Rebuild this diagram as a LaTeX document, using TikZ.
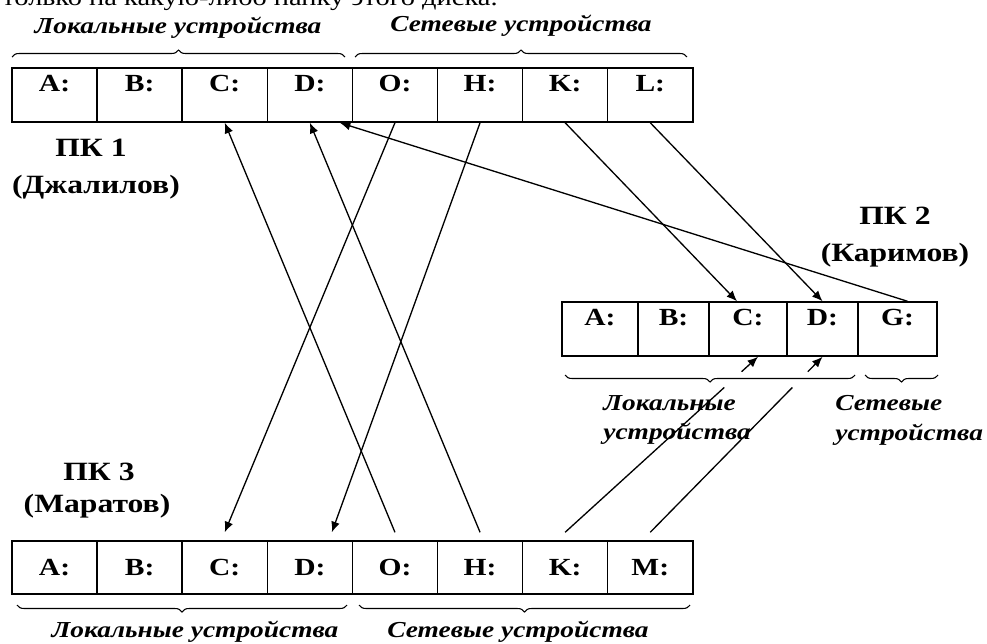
\documentclass[tikz,border=0pt]{standalone}
\usepackage{fontspec}
\setmainfont{Liberation Serif}[FakeStretch=1.2]
\usetikzlibrary{arrows.meta}
\usetikzlibrary{calc}
\usetikzlibrary{decorations.pathreplacing}

\tikzset{
  cell/.style={draw, line width=0.85pt, inner sep=0pt, font=\bfseries\fontsize{14}{16}\selectfont},
  topcell/.style={cell, text height=0.46cm, text depth=0.62cm},
  midcell/.style={cell, minimum height=1.06cm},
  pclabel/.style={font=\bfseries\fontsize{15}{17}\selectfont, inner sep=0pt},
  devlabel/.style={font=\bfseries\itshape\fontsize{13}{17}\selectfont, inner sep=0pt},
  brc/.style={decorate, line width=0.6pt, decoration={brace, amplitude=0.14cm}},
  brcd/.style={decorate, line width=0.6pt, decoration={brace, mirror, amplitude=0.14cm}},
  ln/.style={line width=0.75pt}
}

\begin{document}
\begin{tikzpicture}[x=0.02cm, y=-0.02cm, >={Latex[length=6pt,width=5pt]}]
    \useasboundingbox (0,0) rectangle (987,643);
    \clip (0,0) rectangle (987,643);
    \node[anchor=base west, inner sep=0pt, font=\fontsize{13.5}{16}\selectfont] (cut) at (2,5) {только на какую-либо папку этого диска.};

    % PC 1
    \foreach \l [count=\i] in {A,B,C,D,O,H,K,L}{
      \node[topcell, minimum width=1.702cm] (a\i) at ({12+85.1*(\i-0.5)},95) {\l:};
    };
    \node[pclabel] (pc1) at (91,148) {ПК 1};
    \node[pclabel] (pc1n) at (96,187) {(Джалилов)};
    \draw[brc] (12,57) -- (345,57);
    \draw[brc] (355,57) -- (687,57);
    \node[devlabel] (loc1) at (178,28) {Локальные устройства};
    \node[devlabel] (net1) at (521,26) {Сетевые устройства};

    % PC 2
    \foreach \l/\x/\w [count=\i] in {A/600/76,B/673.5/71,C/748/78,D/822.5/71,G/897.5/79}{
      \node[topcell, minimum width=\w*0.02cm] (b\i) at (\x,329) {\l:};
    };
    \node[pclabel] (pc2) at (895,216) {ПК 2};
    \node[pclabel] (pc2n) at (895,255) {(Каримов)};
    \draw[brcd] (565,375) -- (855,375);
    \draw[brcd] (865,375) -- (938,375);
    \node[devlabel, anchor=west, align=left] (loc2) at (603,420) {Локальные\\устройства};
    \node[devlabel, anchor=west, align=left] (net2) at (835,420) {Сетевые\\устройства};

    % PC 3
    \foreach \l [count=\i] in {A,B,C,D,O,H,K,M}{
      \node[midcell, minimum width=1.702cm] (c\i) at ({12+85.1*(\i-0.5)},567.5) {\l:};
    };
    \node[pclabel] (pc3) at (99,472) {ПК 3};
    \node[pclabel] (pc3n) at (97,506) {(Маратов)};
    \draw[brcd] (17,605) -- (347,605);
    \draw[brcd] (359,605) -- (690,605);
    \node[devlabel] (loc3) at (195,632) {Локальные устройства};
    \node[devlabel] (net3) at (518,632) {Сетевые устройства};

    % links
    \draw[->, ln] ($(c5.north)+(0,-8)$) -- (a3.south);
    \draw[->, ln] ($(c6.north)+(0,-8)$) -- (a4.south);
    \draw[->, ln] ($(b5.north)+(10,0)$) -- ($(a4.south)+(30,0)$);
    \draw[->, ln] (a5.south) -- ($(c3.north)+(0,-8)$);
    \draw[->, ln] (a6.south) -- ($(c4.north)+(22,-8)$);
    \draw[->, ln] (a7.south) -- ($(b3.north)+(-11,0)$);
    \draw[->, ln] (a8.south) -- (b4.north);
    \coordinate (k3) at ($(c7.north)+(0,-8)$);
    \coordinate (k2) at ($(b3.south)+(10,0)$);
    \coordinate (m3) at ($(c8.north)+(0,-8)$);
    \draw[ln] (k3) -- ($(k3)!0.825!(k2)$);
    \draw[->, ln] ($(k3)!0.915!(k2)$) -- (k2);
    \draw[ln] (m3) -- ($(m3)!0.825!(b4.south)$);
    \draw[->, ln] ($(m3)!0.915!(b4.south)$) -- (b4.south);
\end{tikzpicture}
\end{document}
